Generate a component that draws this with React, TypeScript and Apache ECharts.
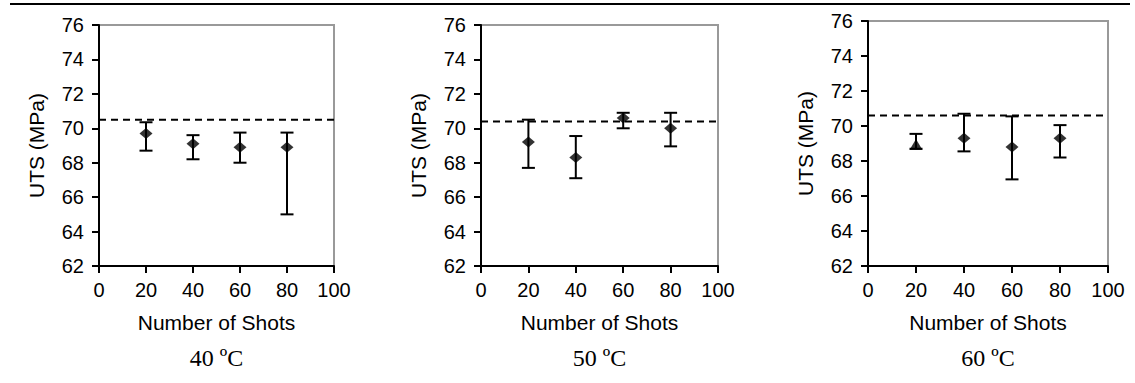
import React, { useEffect, useRef } from "react";
import * as echarts from "echarts";

const shots = [20, 40, 60, 80];
const temps = ["40 ºC", "50 ºC", "60 ºC"];

const uts40 = [69.7, 69.1, 68.9, 68.9];
const low40 = [68.7, 68.2, 68.0, 65.0];
const high40 = [70.35, 69.6, 69.75, 69.75];
const ref40 = 70.5;

const uts50 = [69.2, 68.3, 70.6, 70.0];
const low50 = [67.7, 67.1, 70.0, 68.95];
const high50 = [70.5, 69.55, 70.9, 70.9];
const ref50 = 70.4;

const uts60 = [68.95, 69.3, 68.8, 69.3];
const low60 = [68.7, 68.55, 66.95, 68.2];
const high60 = [69.55, 70.7, 70.55, 70.05];
const ref60 = 70.6;
const symbols60 = ["triangle", "diamond", "diamond", "diamond"];

const yTicks = { min: 62, max: 76, interval: 2 };
const xTicks = { min: 0, max: 100, interval: 20 };

const grids = [
  { left: 99, top: 25, width: 235, height: 241 },
  { left: 481, top: 25, width: 237, height: 241 },
  { left: 868, top: 21, width: 240, height: 245 },
];

const panels = [
  { uts: uts40, low: low40, high: high40, ref: ref40, symbols: null as string[] | null },
  { uts: uts50, low: low50, high: high50, ref: ref50, symbols: null as string[] | null },
  { uts: uts60, low: low60, high: high60, ref: ref60, symbols: symbols60 },
];

const SANS = "'Liberation Sans', Arial, sans-serif";
const SERIF = "'Liberation Serif', 'Times New Roman', serif";

export default function App() {
  const ref = useRef<HTMLDivElement>(null);
  useEffect(() => {
    if (!ref.current) return;
    const chart = echarts.init(ref.current, undefined, { renderer: "svg" });
    const series: any[] = [];
    panels.forEach((p, i) => {
      series.push({
        type: "line",
        xAxisIndex: i,
        yAxisIndex: i,
        data: [
          [xTicks.min, p.ref],
          [xTicks.max, p.ref],
        ],
        symbol: "none",
        lineStyle: { color: "#000", width: 2, type: [7, 5] },
        z: 2,
      });
      series.push({
        type: "custom",
        xAxisIndex: i,
        yAxisIndex: i,
        data: shots.map((s, k) => [s, p.low[k], p.high[k]]),
        encode: { x: 0, y: [1, 2] },
        renderItem: (_params: any, api: any) => {
          const x = api.value(0);
          const lo = api.value(1);
          const hi = api.value(2);
          const a = api.coord([x, hi]);
          const b = api.coord([x, lo]);
          const hw = 6.5;
          const st = { stroke: "#000", lineWidth: 2 };
          return {
            type: "group",
            children: [
              { type: "line", shape: { x1: a[0], y1: a[1], x2: b[0], y2: b[1] }, style: st },
              { type: "line", shape: { x1: a[0] - hw, y1: a[1], x2: a[0] + hw, y2: a[1] }, style: st },
              { type: "line", shape: { x1: b[0] - hw, y1: b[1], x2: b[0] + hw, y2: b[1] }, style: st },
            ],
          };
        },
        z: 3,
      });
      series.push({
        type: "scatter",
        xAxisIndex: i,
        yAxisIndex: i,
        data: shots.map((s, k) => ({
          value: [s, p.uts[k]],
          symbol: p.symbols ? p.symbols[k] : "diamond",
        })),
        symbolSize: [13, 11],
        itemStyle: { color: "#000" },
        z: 4,
      });
    });

    chart.setOption({
      animation: false,
      backgroundColor: "#fff",
      grid: grids.map((g) => ({
        ...g,
        show: true,
        borderColor: "#999",
        borderWidth: 2,
        backgroundColor: "transparent",
      })),
      xAxis: grids.map((_g, i) => ({
        type: "value",
        gridIndex: i,
        min: xTicks.min,
        max: xTicks.max,
        interval: xTicks.interval,
        name: "Number of Shots",
        nameLocation: "middle",
        nameGap: 46,
        nameTextStyle: { color: "#000", fontSize: 21, fontFamily: SANS },
        axisLine: { show: true, onZero: false, lineStyle: { color: "#000", width: 2 } },
        axisTick: { show: true, length: 7, lineStyle: { color: "#000", width: 2 } },
        axisLabel: { color: "#000", fontSize: 20, fontFamily: SANS, margin: 14 },
        splitLine: { show: false },
      })),
      yAxis: grids.map((_g, i) => ({
        type: "value",
        gridIndex: i,
        min: yTicks.min,
        max: yTicks.max,
        interval: yTicks.interval,
        name: "UTS (MPa)",
        nameLocation: "middle",
        nameGap: 52,
        nameTextStyle: { color: "#000", fontSize: 21, fontFamily: SANS },
        axisLine: { show: true, onZero: false, lineStyle: { color: "#000", width: 2 } },
        axisTick: { show: true, length: 7, lineStyle: { color: "#000", width: 2 } },
        axisLabel: { color: "#000", fontSize: 20, fontFamily: SANS, margin: 15 },
        splitLine: { show: false },
      })),
      graphic: [
        {
          type: "line",
          shape: { x1: 10, y1: 4, x2: 1130, y2: 4 },
          style: { stroke: "#000", lineWidth: 2 },
        },
        ...grids.map((g, i) => ({
          type: "text",
          x: g.left + g.width / 2,
          y: 358,
          style: {
            text: temps[i],
            fill: "#000",
            fontSize: 24,
            fontFamily: SERIF,
            align: "center",
            verticalAlign: "middle",
          },
        })),
      ],
      series,
    });
    return () => chart.dispose();
  }, []);
  return (
    <div
      ref={ref}
      style={{ position: "fixed", left: 0, top: 0, width: 1135, height: 383, background: "#fff" }}
    />
  );
}
